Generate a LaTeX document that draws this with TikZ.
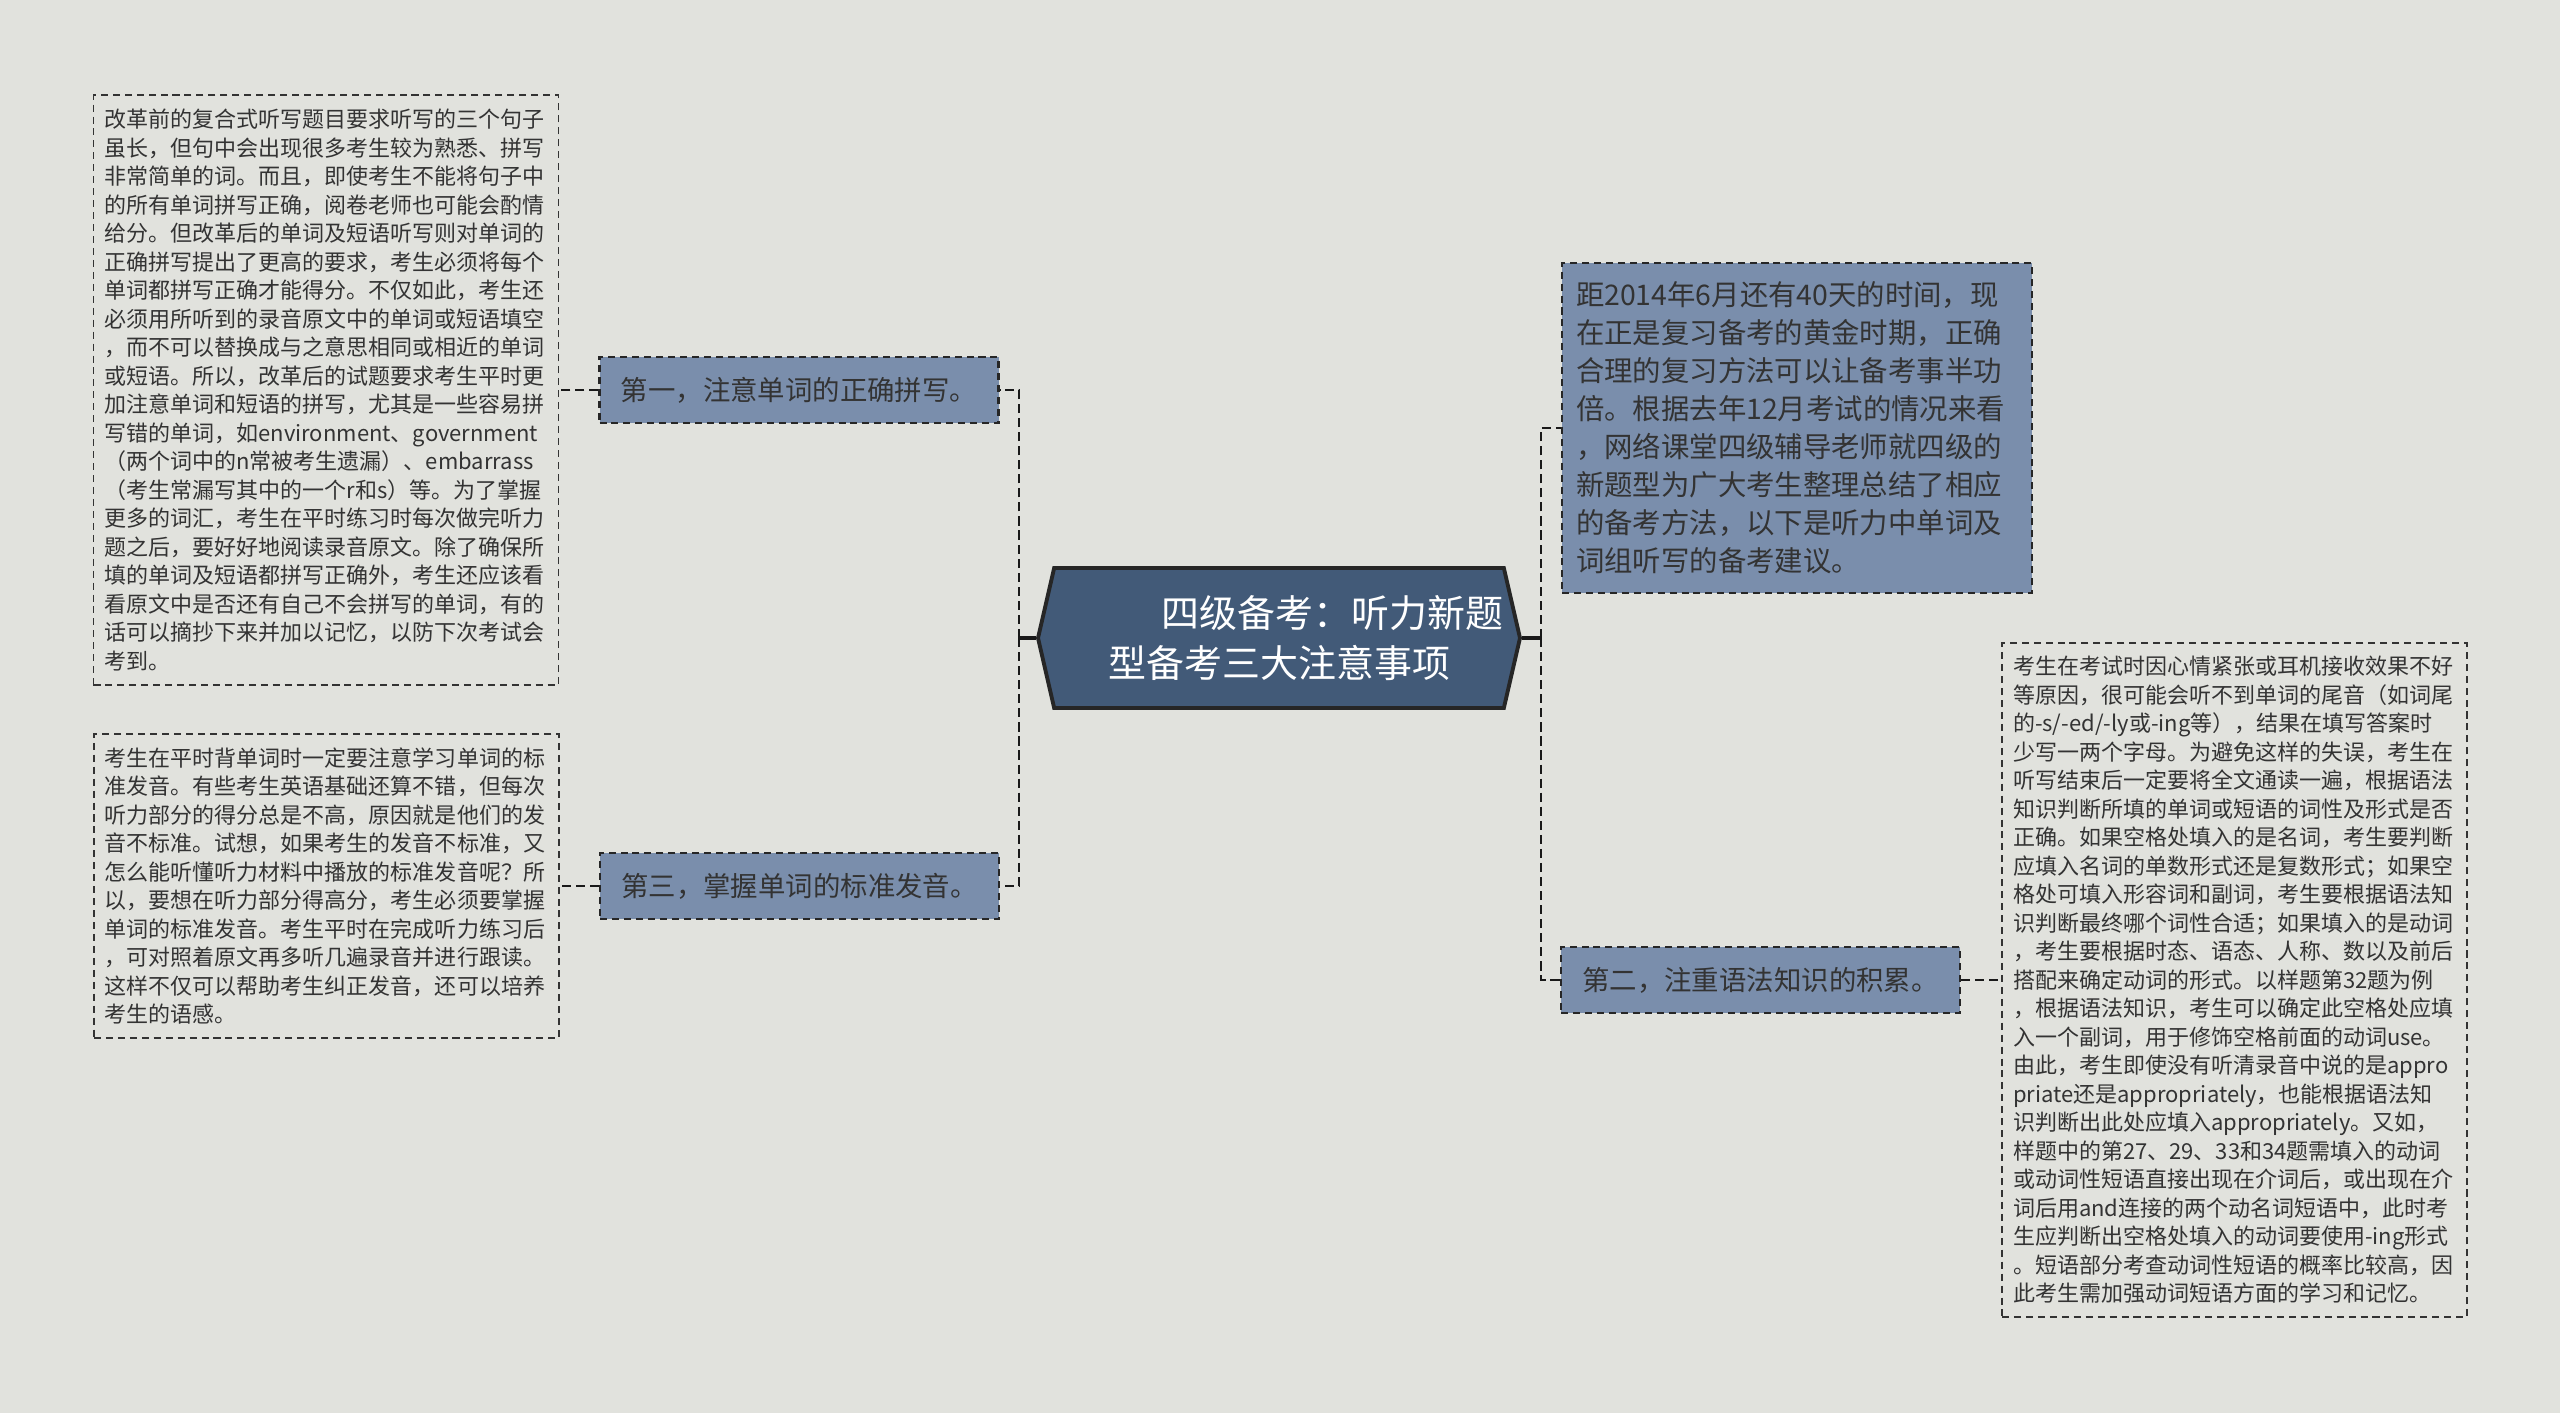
\documentclass[tikz,border=0pt]{standalone}
\usepackage{fontspec}
\newfontfamily\cjk{Noto Sans CJK SC}
\usetikzlibrary{shapes.symbols, positioning}

\definecolor{bgcol}{HTML}{E1E2DD}
\definecolor{rootcol}{HTML}{425A78}
\definecolor{branchcol}{HTML}{7A8EAC}
\definecolor{inkcol}{HTML}{333333}

\begin{document}
\begin{tikzpicture}[
        node distance = 0.39cm,
        every node/.style = {inner sep=0pt, text=inkcol},
        root/.style = {shape=signal, signal to=west and east, signal pointer angle=154,
            draw=black!85, line width=1.1pt, fill=rootcol, text=white, align=left,
            minimum width=4.82cm, minimum height=1.40cm,
            font=\cjk\fontsize{10.8pt}{14.2pt}\selectfont},
        branch/.style = {rectangle, draw=black!85, line width=0.6pt, dash pattern=on 2pt off 1.4pt,
            fill=branchcol, minimum width=3.99cm, minimum height=0.66cm,
            font=\cjk\fontsize{7.8pt}{9pt}\selectfont},
        intro/.style = {branch, align=left, inner xsep=0.14cm, text width=4.42cm,
            minimum height=3.30cm, font=\cjk\fontsize{8.08pt}{10.8pt}\selectfont},
        leaf/.style = {rectangle, draw=black!80, line width=0.55pt, dash pattern=on 2pt off 1.4pt,
            fill=bgcol, align=left, inner xsep=0.11cm, text width=4.43cm,
            font=\cjk\fontsize{6.26pt}{8.11pt}\selectfont},
        link/.style = {draw=black!90, line width=0.75pt, dash pattern=on 2.6pt off 1.4pt},
        stub/.style = {draw=black!90, line width=0.9pt}
    ]
    \fill[bgcol] (0,0) rectangle (25.6,-14.13);
    \useasboundingbox (0,0) rectangle (25.6,-14.13);

    % Nodes
    \node[root] (root) at (12.79,-6.38) {\hspace*{1.07cm}四级备考：听力新题\\
    \hspace*{0.54cm}型备考三大注意事项};

    \node[branch] (spell) at (7.99,-3.90) {第一，注意单词的正确拼写。};
    \node[branch] (sound) at (7.995,-8.86) {第三，掌握单词的标准发音。};
    \node[branch] (grammar) at (17.605,-9.80) {第二，注重语法知识的积累。};
    \node[intro] (intro) at (17.97,-4.28) {距2014年6月还有40天的时间，现\\
    在正是复习备考的黄金时期，正确\\
    合理的复习方法可以让备考事半功\\
    倍。根据去年12月考试的情况来看\\
    ，网络课堂四级辅导老师就四级的\\
    新题型为广大考生整理总结了相应\\
    的备考方法，以下是听力中单词及\\
    词组听写的备考建议。};

    \node[leaf, minimum height=5.90cm] (spelltext) [left=of spell] {改革前的复合式听写题目要求听写的三个句子\\
    虽长，但句中会出现很多考生较为熟悉、拼写\\
    非常简单的词。而且，即使考生不能将句子中\\
    的所有单词拼写正确，阅卷老师也可能会酌情\\
    给分。但改革后的单词及短语听写则对单词的\\
    正确拼写提出了更高的要求，考生必须将每个\\
    单词都拼写正确才能得分。不仅如此，考生还\\
    必须用所听到的录音原文中的单词或短语填空\\
    ，而不可以替换成与之意思相同或相近的单词\\
    或短语。所以，改革后的试题要求考生平时更\\
    加注意单词和短语的拼写，尤其是一些容易拼\\
    写错的单词，如environment、government\\
    （两个词中的n常被考生遗漏）、embarrass\\
    （考生常漏写其中的一个r和s）等。为了掌握\\
    更多的词汇，考生在平时练习时每次做完听力\\
    题之后，要好好地阅读录音原文。除了确保所\\
    填的单词及短语都拼写正确外，考生还应该看\\
    看原文中是否还有自己不会拼写的单词，有的\\
    话可以摘抄下来并加以记忆，以防下次考试会\\
    考到。};
    \node[leaf, minimum height=3.04cm] (soundtext) [left=of sound] {考生在平时背单词时一定要注意学习单词的标\\
    准发音。有些考生英语基础还算不错，但每次\\
    听力部分的得分总是不高，原因就是他们的发\\
    音不标准。试想，如果考生的发音不标准，又\\
    怎么能听懂听力材料中播放的标准发音呢？所\\
    以，要想在听力部分得高分，考生必须要掌握\\
    单词的标准发音。考生平时在完成听力练习后\\
    ，可对照着原文再多听几遍录音并进行跟读。\\
    这样不仅可以帮助考生纠正发音，还可以培养\\
    考生的语感。};
    \node[leaf, minimum height=6.74cm] (grammartext) [right=0.40cm of grammar] {考生在考试时因心情紧张或耳机接收效果不好\\
    等原因，很可能会听不到单词的尾音（如词尾\\
    的-s/-ed/-ly或-ing等），结果在填写答案时\\
    少写一两个字母。为避免这样的失误，考生在\\
    听写结束后一定要将全文通读一遍，根据语法\\
    知识判断所填的单词或短语的词性及形式是否\\
    正确。如果空格处填入的是名词，考生要判断\\
    应填入名词的单数形式还是复数形式；如果空\\
    格处可填入形容词和副词，考生要根据语法知\\
    识判断最终哪个词性合适；如果填入的是动词\\
    ，考生要根据时态、语态、人称、数以及前后\\
    搭配来确定动词的形式。以样题第32题为例\\
    ，根据语法知识，考生可以确定此空格处应填\\
    入一个副词，用于修饰空格前面的动词use。\\
    由此，考生即使没有听清录音中说的是appro\\
    priate还是appropriately，也能根据语法知\\
    识判断出此处应填入appropriately。又如，\\
    样题中的第27、29、33和34题需填入的动词\\
    或动词性短语直接出现在介词后，或出现在介\\
    词后用and连接的两个动名词短语中，此时考\\
    生应判断出空格处填入的动词要使用-ing形式\\
    。短语部分考查动词性短语的概率比较高，因\\
    此考生需加强动词短语方面的学习和记忆。};

    % Lines
    \coordinate (lj) at (10.19,-6.38);
    \coordinate (rj) at (15.41,-6.38);
    \path[stub] (root.west) -- (lj);
    \path[stub] (root.east) -- (rj);
    \path[link] (lj) |- (spell.east);
    \path[link] (lj) |- (sound.east);
    \path[link] (rj) |- (intro.west);
    \path[link] (rj) |- (grammar.west);
    \path[link] (spell.west) -- (spelltext.east);
    \path[link] (sound.west) -- (soundtext.east);
    \path[link] (grammar.east) -- (grammartext.west);

\end{tikzpicture}
\end{document}
